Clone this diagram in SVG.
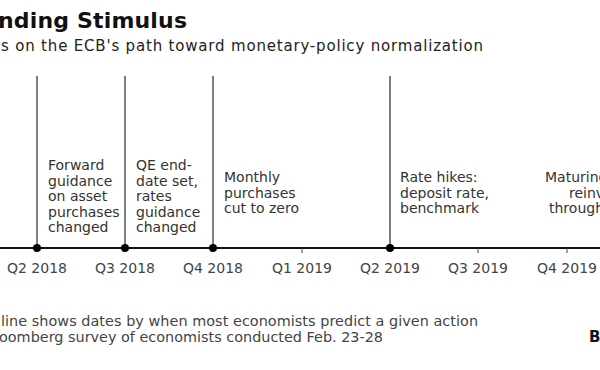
<svg xmlns="http://www.w3.org/2000/svg" width="600" height="370" viewBox="0 0 600 370">
<style>
  text { font-family: "DejaVu Sans", Verdana, sans-serif; }
  .title { font-size: 22px; font-weight: bold; fill: #111; }
  .sub { font-size: 15px; fill: #222; }
  .lbl { font-size: 14px; fill: #333; }
  .q { font-size: 14px; fill: #444; text-anchor: middle; }
  .note { font-size: 14.4px; fill: #444; }
  .vline { stroke: #555; stroke-width: 1.5; }
  .axis { stroke: #111; stroke-width: 2; }
  .tick { stroke: #444; stroke-width: 1; }
  .dot { fill: #000; }
</style>
<rect width="600" height="370" fill="#fff"/>
<text class="title" x="-2" y="28" textLength="189">nding Stimulus</text>
<text class="sub" x="1" y="51" textLength="482">s on the ECB's path toward monetary-policy normalization</text>

<g id="connectors">
  <line class="axis" x1="0" y1="248" x2="600" y2="248"/>
  <line class="vline" x1="37" y1="76" x2="37" y2="248"/>
  <line class="vline" x1="125" y1="76" x2="125" y2="248"/>
  <line class="vline" x1="213" y1="76" x2="213" y2="248"/>
  <line class="vline" x1="390" y1="76" x2="390" y2="248"/>
  <line class="tick" x1="302" y1="248" x2="302" y2="253"/>
  <line class="tick" x1="478" y1="248" x2="478" y2="253"/>
  <line class="tick" x1="567" y1="248" x2="567" y2="253"/>
</g>

<g id="node-q2-2018">
  <circle class="dot" cx="37" cy="248" r="4"/>
  <text class="lbl" x="48" y="170">Forward</text>
  <text class="lbl" x="48" y="186">guidance</text>
  <text class="lbl" x="48" y="201">on asset</text>
  <text class="lbl" x="48" y="217">purchases</text>
  <text class="lbl" x="48" y="232">changed</text>
  <text class="q" x="37" y="273">Q2 2018</text>
</g>
<g id="node-q3-2018">
  <circle class="dot" cx="125" cy="248" r="4"/>
  <text class="lbl" x="136" y="170">QE end-</text>
  <text class="lbl" x="136" y="186">date set,</text>
  <text class="lbl" x="136" y="201">rates</text>
  <text class="lbl" x="136" y="217">guidance</text>
  <text class="lbl" x="136" y="232">changed</text>
  <text class="q" x="125" y="273">Q3 2018</text>
</g>
<g id="node-q4-2018">
  <circle class="dot" cx="213" cy="248" r="4"/>
  <text class="lbl" x="224" y="182">Monthly</text>
  <text class="lbl" x="224" y="198">purchases</text>
  <text class="lbl" x="224" y="213">cut to zero</text>
  <text class="q" x="213" y="273">Q4 2018</text>
</g>
<g id="node-q1-2019">
  <text class="q" x="302" y="273">Q1 2019</text>
</g>
<g id="node-q2-2019">
  <circle class="dot" cx="390" cy="248" r="4"/>
  <text class="lbl" x="400" y="182">Rate hikes:</text>
  <text class="lbl" x="400" y="198">deposit rate,</text>
  <text class="lbl" x="400" y="213">benchmark</text>
  <text class="q" x="390" y="273">Q2 2019</text>
</g>
<g id="node-q3-2019">
  <text class="q" x="478" y="273">Q3 2019</text>
</g>
<g id="node-q4-2019">
  <text class="lbl" x="545" y="182">Maturing</text>
  <text class="lbl" x="569" y="198">reinv</text>
  <text class="lbl" x="549" y="213">through</text>
  <text class="q" x="567" y="273">Q4 2019</text>
</g>

<text class="note" x="1" y="326" textLength="477">line shows dates by when most economists predict a given action</text>
<text class="note" x="-1" y="342" textLength="384">oomberg survey of economists conducted Feb. 23-28</text>
<text x="589" y="342" style="font-family: 'DejaVu Sans', sans-serif; font-size: 15px; font-weight: bold; fill: #111;">B</text>
</svg>
